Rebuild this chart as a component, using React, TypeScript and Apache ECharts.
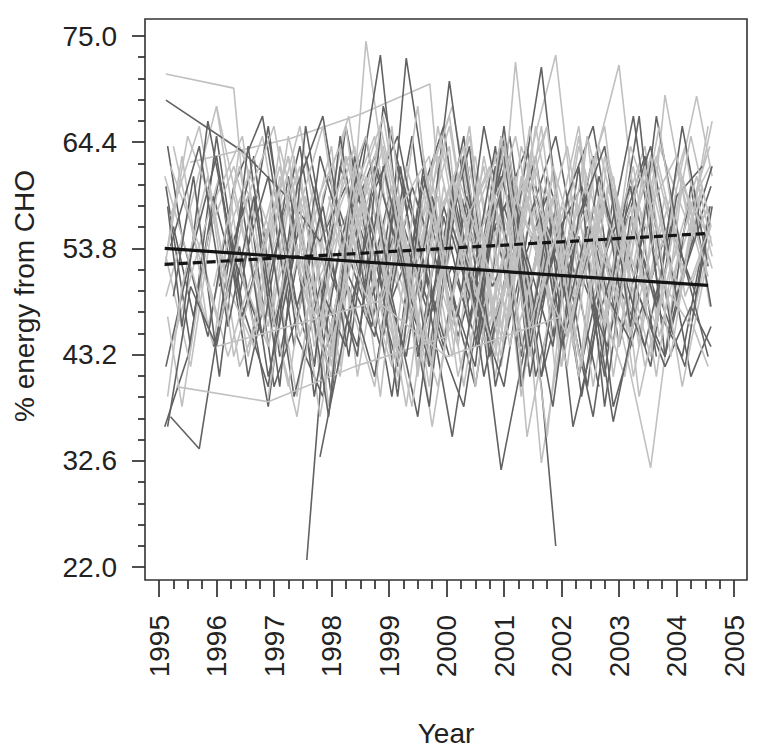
import React, { useEffect, useRef } from "react";
import * as echarts from "echarts";

// ---- axis definitions ----
const X_MIN = 1995;
const X_MAX = 2005;
const Y_MIN = 22;
const Y_MAX = 75;
const Y_STEP = 10.6;
const X_TITLE = "Year";
const Y_TITLE = "% energy from CHO";

// ---- measurement schedules (years) ----
const T0 = [1995.12, 1995.55, 1996.0, 1996.45, 1996.9, 1997.35, 1997.8, 1998.25, 1998.7, 1999.15, 1999.6, 2000.05, 2000.5, 2000.95, 2001.4, 2001.85, 2002.3, 2002.75, 2003.2, 2003.65, 2004.1, 2004.55];
const T1 = [1995.2, 1995.7, 1996.2, 1996.65, 1997.1, 1997.55, 1998.0, 1998.45, 1998.9, 1999.4, 1999.85, 2000.3, 2000.75, 2001.2, 2001.65, 2002.1, 2002.55, 2003.0, 2003.45, 2003.9, 2004.35, 2004.62];
const T2 = [1995.15, 1995.4, 1995.85, 1996.3, 1996.8, 1997.25, 1997.7, 1998.15, 1998.6, 1999.05, 1999.5, 1999.95, 2000.4, 2000.85, 2001.3, 2001.75, 2002.2, 2002.65, 2003.1, 2003.55, 2004.0, 2004.45];
const T3 = [1995.25, 1995.6, 1996.05, 1996.55, 1997.0, 1997.45, 1997.95, 1998.4, 1998.85, 1999.3, 1999.75, 2000.2, 2000.65, 2001.1, 2001.55, 2002.0, 2002.45, 2002.9, 2003.35, 2003.8, 2004.25, 2004.6];
const T4 = [1995.1, 1995.5, 1995.95, 1996.4, 1996.9, 1997.4, 1997.85, 1998.3, 1998.75, 1999.2, 1999.7, 2000.1, 2000.55, 2001.0, 2001.45, 2001.9, 2002.35, 2002.8, 2003.25, 2003.7, 2004.15, 2004.58];
const SCHEDULES = [T0, T1, T2, T3, T4];

type Spec = { s?: number; i?: number; t?: number[]; v: number[] };

// ---- individual trajectories: dark group ----
const DARK: Spec[] = [
  { s: 0, i: 0, v: [60, 44, 65, 48, 40, 59, 46, 66, 52, 42, 62, 50, 40, 57, 64, 45, 55, 41, 61, 48, 43, 57] },
  { s: 1, i: 0, v: [37, 33.8, 52, 63, 43, 57, 39, 61, 49, 65, 45, 38, 55, 60, 41, 51, 63, 44, 56] },
  { s: 2, i: 0, v: [64, 55, 45, 60, 67, 51, 42, 62, 54, 39, 58, 66, 47, 56, 43, 61, 52, 40] },
  { s: 3, i: 0, v: [56, 47, 61, 41, 53, 64, 45, 57, 73.1, 49, 42, 60, 51, 65, 46, 56, 40, 59, 49, 43, 54, 60] },
  { s: 3, i: 2, v: [50, 59, 40, 48, 61, 53, 44, 72.8, 56, 45, 54, 63, 41, 51, 59, 38, 47, 55, 41, 46] },
  { s: 4, i: 0, v: [36, 43, 59, 49, 66, 45, 39, 56, 63, 52, 43, 60, 48, 40, 57, 65, 51, 44, 56, 48] },
  { s: 0, i: 3, v: [52, 61, 44, 63, 54, 46, 62, 49, 70.5, 52, 31.7, 45, 57, 41, 53, 60, 43] },
  { t: [1997.57, 1997.85, 1998.3, 1998.75, 1999.2, 1999.7, 2000.1, 2000.55, 2001.0, 2001.45], v: [22.7, 43, 50, 41, 56, 47, 52, 44, 58, 49] },
  { t: [1999.0, 1999.45, 1999.95, 2000.35, 2000.8, 2001.25, 2001.65, 2001.9], v: [48, 55, 44, 59, 50, 56, 40, 24.1] },
  { t: [1995.12, 1996.45, 1997.3, 1997.8, 1998.25, 1998.7, 1999.15], v: [68.6, 63.5, 58.5, 54.5, 60, 49, 56] },
  { s: 2, i: 5, v: [58, 42, 65, 49, 60, 43, 54, 64, 40, 52, 59, 36, 47, 56, 64, 49, 57] },
  { s: 1, i: 8, v: [45, 60, 52, 65, 43, 56, 71.9, 49, 37, 55, 63, 46, 57, 62] },
  { s: 4, i: 2, v: [44, 54, 38, 60, 67, 51, 45, 62, 42, 56, 48, 65, 41, 55, 60, 49, 44] },
  { s: 0, i: 0, v: [42, 53, 63, 47, 56, 39, 50, 44, 59, 65, 52, 43] },
  { s: 3, i: 10, v: [49, 59, 41, 53, 63, 45, 56, 51, 67, 43, 60, 48] },
  { s: 2, i: 0, v: [58, 46, 66.5, 53, 45, 61, 39, 54, 65, 49, 37, 57, 46, 62, 44] },
  { s: 1, i: 5, v: [63, 52, 43, 68, 57, 47, 63, 45, 54, 41, 59, 66, 50, 44, 56, 49, 58] },
  { s: 4, i: 8, v: [41, 57, 48, 35, 52, 63, 44, 58, 39, 54, 67, 49, 42, 58] },
  { s: 0, i: 6, v: [33, 46, 57, 39, 61, 50, 42, 65, 53, 44, 62, 38, 57, 48, 66, 52] },
  { s: 3, i: 0, v: [49, 61, 41, 64, 46, 56, 37, 63, 52, 43, 59, 47, 66, 53] },
  { s: 2, i: 10, v: [43, 58, 49, 64, 40, 56, 46, 61, 51, 42, 59, 62] },
  { s: 4, i: 4, v: [65, 48, 58, 43, 62, 53, 38, 59, 47, 66, 44, 54] },
  { s: 1, i: 0, v: [54, 64, 46, 59, 40, 66, 51, 44, 62, 49] },
  { s: 3, i: 14, v: [60, 44, 53, 36.5, 49, 42, 48, 44] },
  { s: 0, i: 12, v: [44, 61, 52, 38, 57, 64, 46, 67, 53, 43] },
  { t: [1995.15, 1995.55, 1996.0, 1996.45, 1996.9, 1997.35], v: [36, 50, 44, 58, 41, 53] },
];

// ---- individual trajectories: light group ----
const LIGHT: Spec[] = [
  { t: [1995.12, 1996.3, 1996.45, 1996.9, 1997.35, 1997.8, 1998.25, 1998.7], v: [71.2, 69.8, 60.5, 55, 61, 51, 57, 48] },
  { t: [1995.54, 1997.3, 1998.5, 1999.71, 1999.9, 2000.3, 2000.75], v: [62.4, 64.8, 67.2, 70.2, 58, 62, 50] },
  { s: 2, i: 0, v: [54, 63, 46, 57, 65, 49, 60, 42, 74.5, 56, 46, 64, 51, 41, 59, 66, 49, 55, 44, 31.9, 52, 60] },
  { s: 0, i: 0, v: [49, 58, 68, 51, 44, 62, 54, 66, 47, 59, 42, 53, 63, 46, 60, 50, 65, 43, 56, 63, 52, 58] },
  { s: 1, i: 0, v: [57, 66, 50, 44, 61, 53, 64, 41, 56, 47, 63, 51, 43, 72.4, 49, 59, 40, 56, 64, 47, 57, 51.8] },
  { s: 3, i: 0, v: [44.6, 52, 61, 43, 56, 66, 49, 58, 39, 62, 53, 44, 63, 50, 58, 42, 65, 54, 45, 59, 50, 56] },
  { s: 4, i: 0, v: [61, 53, 44, 64, 56, 39, 59, 67, 50, 43, 61, 68, 53, 45, 63, 56, 42, 60, 51, 64, 57, 62] },
  { s: 1, i: 4, v: [49, 59, 42, 63, 54, 46, 66, 52, 43, 61, 32.4, 49, 57, 44, 63, 52, 59, 66.5] },
  { s: 2, i: 3, v: [59, 47, 65, 54, 41, 61, 50, 68, 45, 57, 63, 39, 58, 49, 64, 53, 43, 62, 52] },
  { s: 4, i: 6, v: [46, 58, 65, 49, 42, 61, 53, 44, 63, 73.1, 50, 59, 41, 55, 64, 48] },
  { s: 0, i: 2, v: [68, 56, 46, 63, 41, 53, 61, 44, 57, 66, 50, 42, 59, 48, 64, 54, 45, 62, 51, 66] },
  { s: 1, i: 10, v: [56, 64, 46, 59, 52, 42, 62, 72.1, 49, 57, 69, 61] },
  { s: 3, i: 3, v: [44, 54, 62, 38, 56, 65, 49, 59, 41, 52, 63, 46, 58, 53, 61, 44, 69.1, 55, 58] },
  { s: 0, i: 0, v: [53, 42, 59, 65, 47, 56, 37, 52, 62, 44, 55, 64, 40, 58, 49, 61, 43] },
  { s: 2, i: 0, v: [47, 38, 55, 62, 52, 40, 58, 64, 47, 60, 42, 53, 66, 44, 61, 50] },
  { s: 4, i: 10, v: [55, 43, 61, 49, 66, 41, 58, 52, 62, 45, 56, 64] },
  { s: 1, i: 0, v: [62, 54, 43, 52, 62, 49, 41, 60, 52, 38, 56, 64, 47, 59, 53] },
  { s: 3, i: 6, v: [59, 47, 66, 54, 36, 52, 62, 44, 56, 49, 65, 41, 58, 50, 46, 55] },
  { s: 0, i: 4, v: [39, 55, 45, 63, 52, 40, 59, 67, 49, 57, 42, 62, 53, 46, 64, 56, 49, 42] },
  { t: [1995.3, 1996.9, 1998.4, 2000.0, 2000.9], v: [40, 38.5, 42, 45, 58] },
  { s: 2, i: 8, v: [51, 42, 61, 53, 65, 46, 56, 35, 59, 49, 41, 58, 63, 53] },
  { s: 4, i: 0, v: [52, 65, 58, 42, 49, 37, 55, 63, 46, 58, 40, 61, 52, 64, 45] },
  { s: 3, i: 12, v: [48, 57, 63, 42, 54, 61, 39, 51, 65, 56] },
  { s: 1, i: 2, v: [57, 46, 64, 53, 43, 59, 67, 49, 40, 56, 62, 45, 54, 64, 49, 58, 42, 52, 61, 54] },
  { s: 0, i: 8, v: [62, 41, 52, 60, 47, 65, 35, 49, 58, 66, 45, 56, 40, 53] },
  { s: 2, i: 4, v: [53, 63, 44, 56, 49, 66, 41, 60, 52, 43, 64, 56] },
  { s: 4, i: 12, v: [58, 65, 46, 55, 42, 63, 52, 66, 49, 56] },
  { s: 1, i: 6, v: [44, 55, 64, 49, 59, 40, 56, 65, 51, 45, 58, 48] },
  { s: 3, i: 0, v: [64, 55, 46, 59, 66, 51, 43, 62, 53, 38, 57] },
  { s: 0, i: 14, v: [49, 59, 41, 63, 53, 46, 61, 51] },
  { s: 2, i: 0, v: [39, 50, 61, 43, 54, 63, 47, 58, 65, 51] },
  { t: [1996.0, 1998.8, 2000.0, 2002.0], v: [44, 48.5, 43, 47] },
  { s: 1, i: 12, v: [60, 51, 66, 45, 56, 48, 62, 43, 59, 53] },
  { s: 3, i: 4, v: [60, 45, 55, 64, 48, 57, 42, 61, 53, 47, 66, 51, 58, 44, 62] },
  { s: 4, i: 2, v: [50, 62, 44, 57, 66, 49, 40, 58, 63, 46, 55, 61, 43, 57] },
  { s: 0, i: 10, v: [63, 48, 57, 43, 61, 54, 66, 46, 58, 41, 60, 55] },
  { s: 2, i: 12, v: [62, 47, 56, 66, 44, 59, 52, 63, 48, 60] },
];

// ---- fitted group trends ----
const TREND_SOLID_X = [1995.1, 2004.55];
const TREND_SOLID_Y = [53.8, 50.1];
const TREND_DASH_X = [1995.1, 2004.58];
const TREND_DASH_Y = [52.2, 55.3];

const DARK_COLOR = "#626262";
const LIGHT_COLOR = "#c0c0c0";
const FONT = "'Liberation Sans', Arial, Helvetica, sans-serif";

function toPairs(spec: Spec): number[][] {
  const times = spec.t ?? SCHEDULES[spec.s as number].slice(spec.i ?? 0);
  const n = Math.min(times.length, spec.v.length);
  const out: number[][] = [];
  for (let k = 0; k < n; k++) out.push([times[k], spec.v[k]]);
  return out;
}

function zip(xs: number[], ys: number[]): number[][] {
  return xs.map((x, k) => [x, ys[k]]);
}

export default function App() {
  const ref = useRef<HTMLDivElement>(null);

  useEffect(() => {
    if (!ref.current) return;
    const chart = echarts.init(ref.current, null, { renderer: "svg" });

    const lineSeries: any[] = [];
    const maxLen = Math.max(DARK.length, LIGHT.length);
    for (let k = 0; k < maxLen; k++) {
      if (k < LIGHT.length) {
        lineSeries.push({
          type: "line",
          data: toPairs(LIGHT[k]),
          symbol: "none",
          silent: true,
          lineStyle: { color: LIGHT_COLOR, width: 1.6 },
          z: 2,
        });
      }
      if (k < DARK.length) {
        lineSeries.push({
          type: "line",
          data: toPairs(DARK[k]),
          symbol: "none",
          silent: true,
          lineStyle: { color: DARK_COLOR, width: 1.6 },
          z: 2,
        });
      }
    }
    lineSeries.push({
      type: "line",
      data: zip(TREND_SOLID_X, TREND_SOLID_Y),
      symbol: "none",
      silent: true,
      lineStyle: { color: "#141414", width: 3.2 },
      z: 5,
    });
    lineSeries.push({
      type: "line",
      data: zip(TREND_DASH_X, TREND_DASH_Y),
      symbol: "none",
      silent: true,
      lineStyle: { color: "#141414", width: 3.2, type: [9, 5] },
      z: 5,
    });

    const axisLabelCommon = { color: "#222", fontSize: 28, fontFamily: FONT };

    chart.setOption({
      animation: false,
      backgroundColor: "#fff",
      grid: { left: 159, right: 32, top: 36, bottom: 186 },
      xAxis: {
        type: "value",
        min: X_MIN,
        max: X_MAX,
        interval: 1,
        offset: 13,
        axisLine: { show: false },
        axisTick: { show: true, length: 17, lineStyle: { color: "#222", width: 1.6 } },
        minorTick: { show: true, splitNumber: 4, length: 9, lineStyle: { color: "#222", width: 1.6 } },
        splitLine: { show: false },
        minorSplitLine: { show: false },
        axisLabel: { ...axisLabelCommon, rotate: 90, margin: 35, formatter: (v: number) => String(Math.round(v)) },
      },
      yAxis: {
        type: "value",
        min: Y_MIN,
        max: Y_MAX,
        interval: Y_STEP,
        offset: 14,
        axisLine: { show: false },
        axisTick: { show: true, length: 13, lineStyle: { color: "#222", width: 1.6 } },
        minorTick: { show: true, splitNumber: 5, length: 7, lineStyle: { color: "#222", width: 1.6 } },
        splitLine: { show: false },
        minorSplitLine: { show: false },
        axisLabel: { ...axisLabelCommon, margin: 28, formatter: (v: number) => v.toFixed(1) },
      },
      graphic: [
        {
          type: "rect",
          shape: { x: 145, y: 19, width: 602, height: 561 },
          style: { fill: "none", stroke: "#333", lineWidth: 1.6 },
          silent: true,
          z: 10,
        },
        {
          type: "text",
          x: 446,
          y: 733,
          style: { text: X_TITLE, fill: "#222", font: `28px ${FONT}`, textAlign: "center", textVerticalAlign: "middle" },
        },
        {
          type: "text",
          x: 24,
          y: 296,
          rotation: Math.PI / 2,
          style: { text: Y_TITLE, fill: "#222", font: `28px ${FONT}`, textAlign: "center", textVerticalAlign: "middle" },
        },
      ],
      series: lineSeries,
    });

    return () => chart.dispose();
  }, []);

  return (
    <div
      ref={ref}
      style={{ position: "fixed", left: 0, top: 0, width: 766, height: 753, background: "#fff" }}
    />
  );
}
